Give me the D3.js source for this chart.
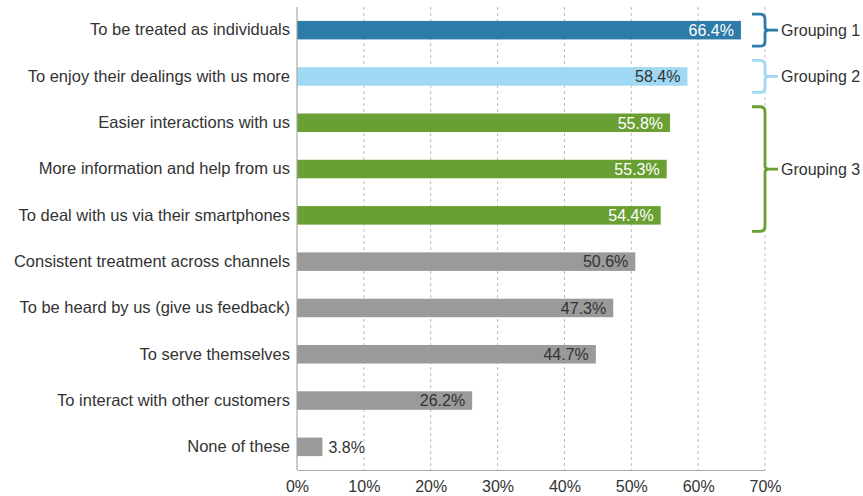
<!DOCTYPE html>
<html>
<head>
<meta charset="utf-8">
<script src="https://cdn.jsdelivr.net/npm/d3@7"></script>
<style>
  html, body { margin: 0; padding: 0; background: #fff; }
  svg text { font-family: "Liberation Sans", Arial, sans-serif; }
</style>
</head>
<body>
<svg id="chart" width="863" height="496"></svg>
<script>
// Survey answers, top to bottom
const categories = [
  "To be treated as individuals",
  "To enjoy their dealings with us more",
  "Easier interactions with us",
  "More information and help from us",
  "To deal with us via their smartphones",
  "Consistent treatment across channels",
  "To be heard by us (give us feedback)",
  "To serve themselves",
  "To interact with other customers",
  "None of these"
];
const values = [66.4, 58.4, 55.8, 55.3, 54.4, 50.6, 47.3, 44.7, 26.2, 3.8];
// Group index of each answer (0 = ungrouped)
const groupOf = [1, 2, 3, 3, 3, 0, 0, 0, 0, 0];
const groupNames = ["Grouping 1", "Grouping 2", "Grouping 3"];
const xTicks = [0, 10, 20, 30, 40, 50, 60, 70];

const colors = { 0: "#9a9a9a", 1: "#2c7ba8", 2: "#9fd9f3", 3: "#6aa033" };
const labelInk = { 0: "#333333", 1: "#ffffff", 2: "#333333", 3: "#ffffff" };
const ink = "#333333";

const svg = d3.select("#chart");
const plotL = 297, plotR = 765, plotT = 7, plotB = 470;

const x = d3.scaleLinear().domain([0, 70]).range([plotL, plotR]);
const y = d3.scaleBand().domain(categories).range([plotT, plotB]).paddingInner(0.6).paddingOuter(0.3);

// Dotted vertical gridlines
svg.append("g").selectAll("line").data(xTicks.slice(1)).join("line")
  .attr("x1", d => x(d)).attr("x2", d => x(d))
  .attr("y1", plotT).attr("y2", plotB)
  .attr("stroke", "#bdbdbd").attr("stroke-width", 1)
  .attr("stroke-dasharray", "3,3");

// Bars
svg.append("g").selectAll("rect").data(values).join("rect")
  .attr("x", x(0))
  .attr("y", (d, i) => y(categories[i]))
  .attr("width", d => x(d) - x(0))
  .attr("height", y.bandwidth())
  .attr("fill", (d, i) => colors[groupOf[i]]);

// Value labels: inside the bar end, or just past it for short bars
const inside = d => x(d) - x(0) > 50;
svg.append("g").selectAll("text").data(values).join("text")
  .attr("x", d => inside(d) ? x(d) - 7 : x(d) + 6)
  .attr("y", (d, i) => y(categories[i]) + y.bandwidth() / 2)
  .attr("dy", "0.36em")
  .attr("text-anchor", d => inside(d) ? "end" : "start")
  .attr("font-size", 16)
  .attr("fill", (d, i) => inside(d) ? labelInk[groupOf[i]] : ink)
  .text(d => d.toFixed(1) + "%");

// Category axis
const yAxis = svg.append("g").attr("transform", `translate(${plotL},0)`)
  .call(d3.axisLeft(y).tickSize(0).tickPadding(7));
yAxis.select(".domain").remove();
yAxis.selectAll("text").attr("font-size", 16.5).attr("fill", ink)
  .style("font-family", "'Liberation Sans', Arial, sans-serif");
svg.append("line").attr("x1", plotL).attr("x2", plotL).attr("y1", plotT).attr("y2", plotB)
  .attr("stroke", "#a8a8a8").attr("stroke-width", 1.2);

// Value axis
const xAxis = svg.append("g").attr("transform", `translate(0,${plotB})`)
  .call(d3.axisBottom(x).tickValues(xTicks).tickFormat(d => d + "%").tickSize(0).tickPadding(11));
xAxis.select(".domain").attr("stroke", "#a8a8a8").attr("stroke-width", 1.2);
xAxis.selectAll("text").attr("font-size", 16).attr("fill", ink)
  .style("font-family", "'Liberation Sans', Arial, sans-serif");

// Group braces
const bx0 = 752, bx1 = 765, r = 5;
groupNames.forEach((name, gi) => {
  const g = gi + 1;
  const idx = groupOf.map((v, i) => v === g ? i : -1).filter(i => i >= 0);
  const c0 = y(categories[idx[0]]) + y.bandwidth() / 2;
  const c1 = y(categories[idx[idx.length - 1]]) + y.bandwidth() / 2;
  const t = c0 - 16, b = c1 + 16, m = (t + b) / 2;
  const p = d3.path();
  p.moveTo(bx0, t);
  p.lineTo(bx1 - r, t);
  p.quadraticCurveTo(bx1, t, bx1, t + r);
  p.lineTo(bx1, m - 3);
  p.quadraticCurveTo(bx1, m, bx1 + 4, m);
  p.lineTo(bx1 + 13, m);
  p.moveTo(bx1 + 4, m);
  p.quadraticCurveTo(bx1, m, bx1, m + 3);
  p.lineTo(bx1, b - r);
  p.quadraticCurveTo(bx1, b, bx1 - r, b);
  p.lineTo(bx0, b);
  svg.append("path").attr("d", p.toString())
    .attr("fill", "none").attr("stroke", colors[g]).attr("stroke-width", 2.8);
  svg.append("text").attr("x", bx1 + 16).attr("y", m).attr("dy", "0.36em")
    .attr("font-size", 16).attr("fill", ink).text(name);
});
</script>
</body>
</html>
